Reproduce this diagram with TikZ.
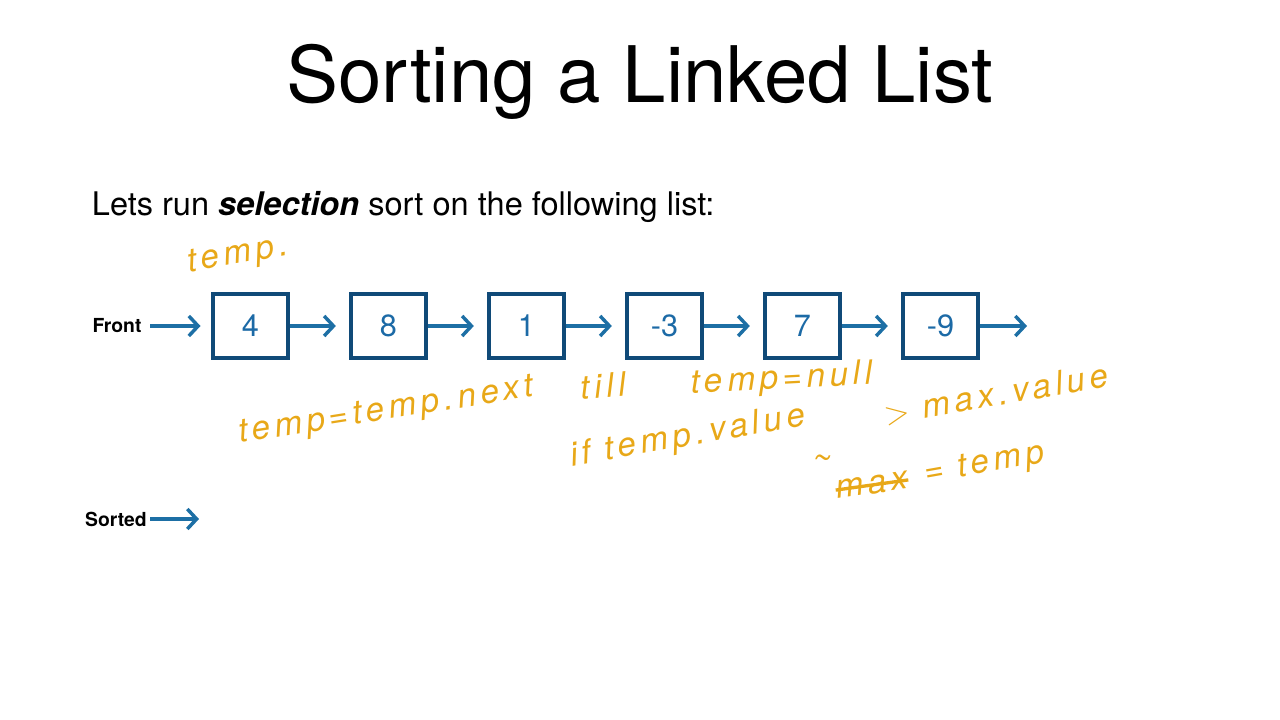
\documentclass[tikz,border=0pt]{standalone}
\usepackage{fontspec}
\setmainfont{TeX Gyre Heros}
\usetikzlibrary{arrows.meta}

\definecolor{boxblue}{RGB}{16,74,120}
\definecolor{arrowblue}{RGB}{29,111,165}
\definecolor{numblue}{RGB}{28,106,166}
\definecolor{inkgold}{RGB}{232,168,24}

\tikzset{every picture/.style={line width=0.75pt}}
\tikzset{
	cell/.style={draw=boxblue, line width=3pt, minimum width=56pt, minimum height=48pt, inner sep=0pt, text=numblue, font=\fontsize{23}{27}\selectfont},
	link/.style={draw=arrowblue, line width=2.6pt, -{Straight Barb[length=7pt,width=15pt]}},
	ink/.style={text=inkgold, font=\itshape\fontsize{25}{30}\selectfont\addfontfeatures{LetterSpace=14}, inner sep=0pt},
}

\begin{document}
\begin{tikzpicture}[x=0.75pt,y=0.75pt,yscale=-1,xscale=1]
	%set diagram left start at 0, and has height of 720
	\path[use as bounding box] (0,0) rectangle (1280,720);

	% Text Node
	\draw (640,82) node (title) {\fontsize{58.5}{68}\selectfont Sorting a Linked List};
	% Text Node
	\draw (87,207) node[anchor=west] (intro) {\fontsize{24.4}{29}\selectfont Lets run \textbf{\textit{selection}} sort on the following list:};

	%Shape: Rectangle
	\node[cell] (n1) at (250.5,326) {4};
	%Shape: Rectangle
	\node[cell] (n2) at (388.5,326) {8};
	%Shape: Rectangle
	\node[cell] (n3) at (526.5,326) {1};
	%Shape: Rectangle
	\node[cell] (n4) at (664.5,326) {-3};
	%Shape: Rectangle
	\node[cell] (n5) at (802.5,326) {7};
	%Shape: Rectangle
	\node[cell] (n6) at (940.5,326) {-9};

	% Text Node
	\draw (117,326) node (front) {\fontsize{14.5}{17}\selectfont\bfseries Front};
	% Text Node
	\draw (116,519) node (sorted) {\fontsize{14.5}{17}\selectfont\bfseries Sorted};
	\coordinate (tail) at (1027,326);
	\coordinate (sortedEnd) at (199,519);

	%Straight Lines
	\draw[link, shorten <=3pt, shorten >=8pt] (front) -- (n1);
	\draw[link, shorten >=10pt] (n1) -- (n2);
	\draw[link, shorten >=10pt] (n2) -- (n3);
	\draw[link, shorten >=10pt] (n3) -- (n4);
	\draw[link, shorten >=10pt] (n4) -- (n5);
	\draw[link, shorten >=10pt] (n5) -- (n6);
	\draw[link] (n6) -- (tail);
	\draw[link, shorten <=-1pt] (sorted) -- (sortedEnd);

	% Text Node
	\draw (238,256) node[ink, rotate=10] (noteA) {temp.};
	% Text Node
	\draw (386,412) node[ink, rotate=9] (noteB) {temp=temp.next};
	% Text Node
	\draw (603,386) node[ink, rotate=5] (noteTill) {till};
	% Text Node
	\draw (782,380) node[ink, rotate=3] (noteNull) {temp=null};
	% Text Node
	\draw (688,437) node[ink, rotate=10] (noteIf) {if temp.value};
	% Text Node
	\draw (996,394) node[ink, rotate=10] (noteGt) {$>$ max.value};
	% Text Node
	\draw (822,462) node[ink] (noteTilde) {\textasciitilde};
	% Text Node
	\draw (872,485) node[ink, rotate=8] (noteMax) {max};
	\draw[inkgold, line width=2.5pt] (noteMax.west) -- (noteMax.east);
	% Text Node
	\draw (985,465) node[ink, rotate=10] (noteTemp) {= temp};

\end{tikzpicture}
\end{document}
